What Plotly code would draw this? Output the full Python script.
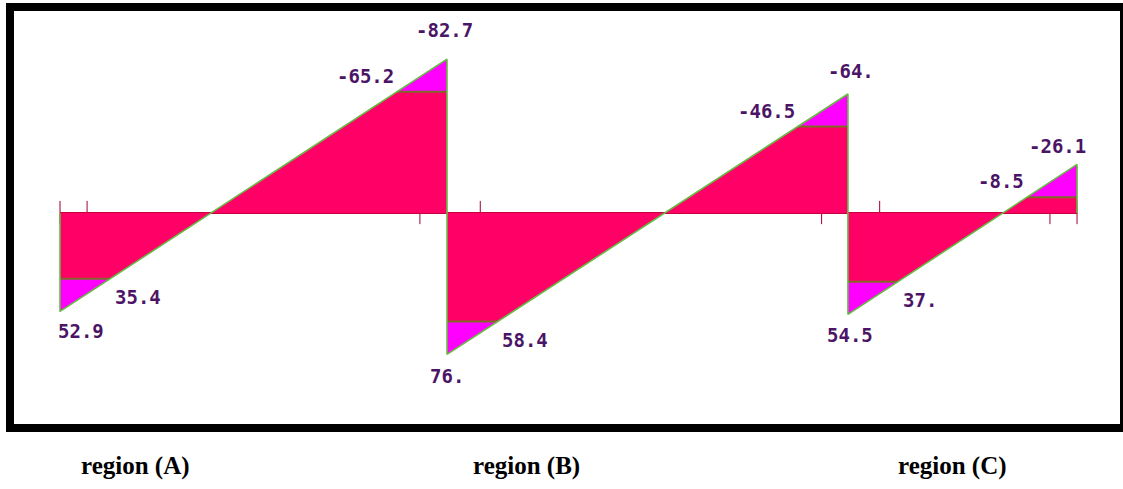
import plotly.graph_objects as go

# Beam geometry (m) and shear envelope values (kN) per span
SPANS = ["A", "B", "C"]
SUPPORTS = [0.0, 5.0, 10.18, 13.14]
V_START_MAX = [52.9, 76.0, 54.5]
V_END_MAX = [-82.7, -64.0, -26.1]
V_START_MIN = [35.4, 58.4, 37.0]
V_END_MIN = [-65.2, -46.5, -8.5]
TICK_POS = [0.0, 0.35, 4.65, 5.43, 9.84, 10.59, 12.79, 13.14]
REGION_LABELS = ["region (A)", "region (B)", "region (C)"]

RED = "#FF0066"
MAGENTA = "#FF00FF"
EDGE = "#66BB44"
INNER = "#7F6A2A"
TEXT = "#4B1466"
LABEL_FONT = dict(family="DejaVu Sans Mono", size=19, color=TEXT)


def fmt(v):
    s = f"{v:.1f}"
    if s.endswith(".0"):
        s = s[:-1]
    return s


def at_value(x0, x1, v0, v1, v):
    """x where the linear shear line of a span reaches value v."""
    return x0 + (v0 - v) / (v0 - v1) * (x1 - x0)


fig = go.Figure()

# tick marks along the beam axis
tx, ty = [], []
for p in TICK_POS:
    tx += [p, p, None]
    ty += [-6.5, 6, None]
fig.add_trace(go.Scatter(x=tx, y=ty, mode="lines",
                         line=dict(color="#A0002A", width=1), hoverinfo="skip"))

# beam axis
fig.add_trace(go.Scatter(x=[SUPPORTS[0], SUPPORTS[-1]], y=[0, 0], mode="lines",
                         line=dict(color="#C8003C", width=2), hoverinfo="skip"))

annotations = []
start_nudge = [(21, -20), (0, -22), (2, -21)]
end_nudge = [(-3, 29), (3, 23), (-20, 18)]
for i in range(len(SPANS)):
    x0, x1 = SUPPORTS[i], SUPPORTS[i + 1]
    a, b = V_START_MAX[i], V_END_MAX[i]
    c, d = V_START_MIN[i], V_END_MIN[i]
    xc = at_value(x0, x1, a, b, c)
    xd = at_value(x0, x1, a, b, d)

    # envelope (maximum) polygon
    fig.add_trace(go.Scatter(x=[x0, x0, x1, x1, x0], y=[0, a, b, 0, 0],
                             fill="toself", fillcolor=MAGENTA, mode="lines",
                             line=dict(width=0, color=MAGENTA), hoverinfo="skip"))
    # minimum polygon
    fig.add_trace(go.Scatter(x=[x0, x0, xc, xd, x1, x1, x0],
                             y=[0, c, c, d, d, 0, 0],
                             fill="toself", fillcolor=RED, mode="lines",
                             line=dict(width=0, color=RED), hoverinfo="skip"))
    # inner level lines
    fig.add_trace(go.Scatter(x=[x0, xc, None, xd, x1], y=[c, c, None, d, d],
                             mode="lines", line=dict(color=INNER, width=2),
                             hoverinfo="skip"))
    # outline
    fig.add_trace(go.Scatter(x=[x0, x0, x1, x1], y=[0, a, b, 0], mode="lines",
                             line=dict(color=EDGE, width=1.6), hoverinfo="skip"))

    annotations += [
        dict(x=x0, y=a, text=f"<b>{fmt(a)}</b>", showarrow=False, xanchor="center",
             yanchor="middle", xshift=start_nudge[i][0], yshift=start_nudge[i][1],
             font=LABEL_FONT),
        dict(x=x1, y=b, text=f"<b>{fmt(b)}</b>", showarrow=False, xanchor="center",
             yanchor="middle", xshift=end_nudge[i][0], yshift=end_nudge[i][1],
             font=LABEL_FONT),
        dict(x=xc, y=c, text=f"<b>{fmt(c)}</b>", showarrow=False, xanchor="left",
             yanchor="middle", xshift=3, yshift=-18, font=LABEL_FONT),
        dict(x=xd, y=d, text=f"<b>{fmt(d)}</b>", showarrow=False, xanchor="right",
             yanchor="middle", xshift=-1, yshift=16, font=LABEL_FONT),
    ]

for lab, xc in zip(REGION_LABELS, [135, 526, 952]):
    annotations.append(dict(x=xc / 1123, y=1 - 466 / 489, xref="paper", yref="paper",
                            text=f"<b>{lab}</b>", showarrow=False,
                            xanchor="center", yanchor="middle",
                            font=dict(family="Liberation Serif", size=25, color="#000000")))

fig.update_layout(
    width=1123, height=489,
    margin=dict(l=0, r=0, t=0, b=0),
    paper_bgcolor="white", plot_bgcolor="white",
    showlegend=False,
    xaxis=dict(range=[-60 / 77.4, 1063 / 77.4], visible=False, fixedrange=True),
    yaxis=dict(range=[276 / 1.86, -213 / 1.86], visible=False, fixedrange=True),
    annotations=annotations,
    shapes=[dict(type="rect", xref="paper", yref="paper",
                 x0=10 / 1123, x1=1124 / 1123, y0=1 - 428 / 489, y1=1 - 7 / 489,
                 line=dict(color="black", width=8), layer="below")],
)

fig.write_html("out.html")
